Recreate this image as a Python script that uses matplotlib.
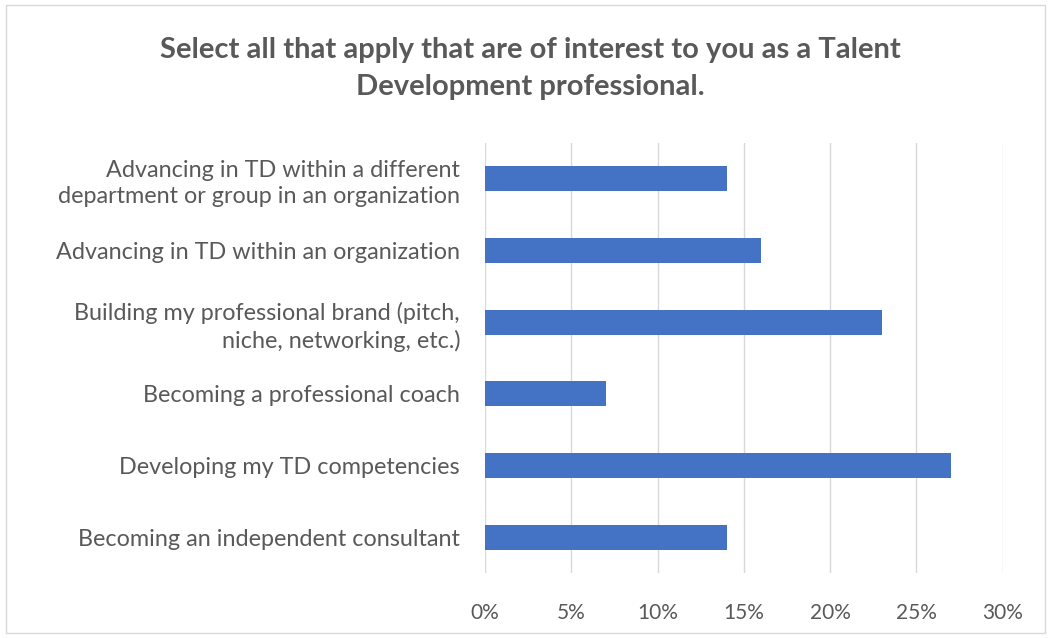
import matplotlib.pyplot as plt
from matplotlib.patches import Rectangle
from matplotlib.ticker import PercentFormatter

plt.rcParams['font.family'] = ['Lato', 'DejaVu Sans']

categories = [
    "Advancing in TD within a different\ndepartment or group in an organization",
    "Advancing in TD within an organization",
    "Building my professional brand (pitch,\nniche, networking, etc.)",
    "Becoming a professional coach",
    "Developing my TD competencies",
    "Becoming an independent consultant",
]
values = [0.14, 0.16, 0.23, 0.07, 0.27, 0.14]
x_ticks = [0, 0.05, 0.10, 0.15, 0.20, 0.25, 0.30]

text_color = "#595959"

fig = plt.figure(figsize=(10.51, 6.38), dpi=100)
ax = fig.add_axes([0.4615, 0.102, 0.4925, 0.674])

ypos = list(range(len(categories)))
ax.barh(ypos, values, height=0.35, color="#4472C4", zorder=3)
ax.set_ylim(len(categories) - 0.5, -0.5)
ax.set_xlim(0, 0.30)
ax.set_yticks(ypos)
ax.set_yticklabels(categories, fontsize=16.8, color=text_color, linespacing=1.3)
ax.set_xticks(x_ticks)
ax.xaxis.set_major_formatter(PercentFormatter(1.0, decimals=0))
ax.tick_params(axis="x", labelsize=15, labelcolor=text_color, length=0, pad=22)
ax.tick_params(axis="y", length=0, pad=18)
ax.grid(axis="x", color="#D9D9D9", linewidth=1, zorder=0)
for s in ax.spines.values():
    s.set_visible(False)

fig.text(0.505, 0.893, "Select all that apply that are of interest to you as a Talent\nDevelopment professional.",
         ha="center", va="center", fontsize=21, fontweight="bold", color=text_color, linespacing=1.5)

fig.patches.append(Rectangle((0.006, 0.008), 0.988, 0.984, transform=fig.transFigure,
                             fill=False, edgecolor="#D9D9D9", linewidth=1))

plt.savefig("out.png", dpi=100)
